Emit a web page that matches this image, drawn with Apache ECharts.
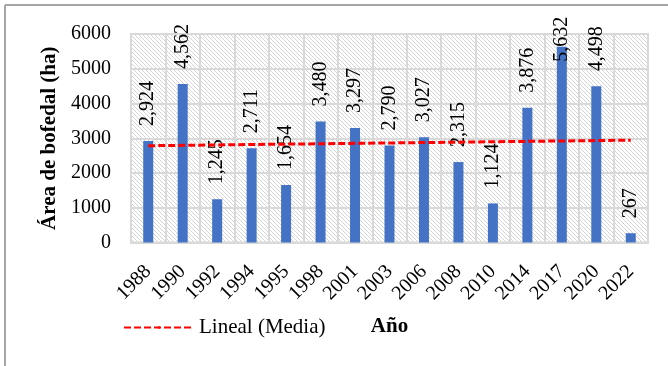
<!DOCTYPE html>
<html>
<head>
<meta charset="utf-8">
<script src="https://cdn.jsdelivr.net/npm/echarts@6/dist/echarts.min.js"></script>
<style>
html,body{margin:0;padding:0;background:#fff;}
#c{width:668px;height:366px;}
</style>
</head>
<body>
<div id="c"></div>
<script>
var categories = ['1988','1990','1992','1994','1995','1998','2001','2003','2006','2008','2010','2014','2017','2020','2022'];
var areaValues = [2924, 4562, 1245, 2711, 1654, 3480, 3297, 2790, 3027, 2315, 1124, 3876, 5632, 4498, 267];
var trendCategories = ['1988', '2022'];
var trendValues = [2785, 2945];
var yTicks = [0, 1000, 2000, 3000, 4000, 5000, 6000];

var pc = document.createElement('canvas');
pc.width = 4; pc.height = 4;
var ctx = pc.getContext('2d');
ctx.fillStyle = '#ffffff';
ctx.fillRect(0, 0, 4, 4);
ctx.fillStyle = '#d4d4d4';
for (var i = 0; i < 4; i++) { ctx.fillRect(i, i, 1, 1); }

var serif = 'Liberation Serif';
var chart = echarts.init(document.getElementById('c'), null, {renderer: 'canvas'});
var barData = areaValues.map(function (v) {
  if (v === 5632) { return {value: v, label: {distance: -15}}; }
  return v;
});
chart.setOption({
  animation: false,
  backgroundColor: '#ffffff',
  grid: {
    left: 131, right: 20, top: 34, bottom: 123.5,
    show: true,
    backgroundColor: {image: pc, repeat: 'repeat'},
    borderColor: '#d9d9d9',
    borderWidth: 2
  },
  legend: {
    left: 118, top: 312,
    itemWidth: 70, itemHeight: 3,
    itemGap: 10,
    data: ['Lineal (Media)'],
    textStyle: {fontFamily: serif, fontSize: 21, color: '#000'}
  },
  graphic: [
    {type: 'line', shape: {x1: 5, y1: 5, x2: 668, y2: 5}, style: {stroke: '#a6a6a6', lineWidth: 2}, silent: true},
    {type: 'line', shape: {x1: 5, y1: 5, x2: 5, y2: 366}, style: {stroke: '#a6a6a6', lineWidth: 2}, silent: true}
  ],
  xAxis: {
    type: 'category',
    data: categories,
    boundaryGap: true,
    name: 'Año',
    nameLocation: 'middle',
    nameGap: 74,
    nameTextStyle: {fontFamily: serif, fontSize: 21, fontWeight: 'bold', color: '#000'},
    axisLine: {show: true, lineStyle: {color: '#d9d9d9', width: 2}},
    axisTick: {show: false},
    splitLine: {show: true, interval: 0, lineStyle: {color: '#d9d9d9', width: 2}},
    axisLabel: {rotate: 45, interval: 0, margin: 26, fontFamily: serif, fontSize: 20, color: '#000'}
  },
  yAxis: {
    type: 'value',
    min: yTicks[0], max: yTicks[yTicks.length - 1], interval: 1000,
    name: 'Área de bofedal (ha)',
    nameLocation: 'middle',
    nameGap: 71,
    nameTextStyle: {fontFamily: serif, fontSize: 21, fontWeight: 'bold', color: '#000'},
    axisLine: {show: false},
    axisTick: {show: false},
    splitLine: {show: true, lineStyle: {color: '#d9d9d9', width: 2}},
    axisLabel: {margin: 20, fontFamily: serif, fontSize: 20, color: '#000', formatter: function (v) { return String(v); }}
  },
  series: [
    {
      name: 'Área',
      type: 'bar',
      data: barData,
      barWidth: 10,
      itemStyle: {color: '#4472c4'},
      label: {
        show: true,
        position: 'top',
        distance: 15,
        rotate: 90,
        align: 'left',
        verticalAlign: 'middle',
        fontFamily: serif,
        fontSize: 20,
        color: '#000',
        formatter: function (p) { return p.value.toLocaleString('en-US'); }
      }
    },
    {
      name: 'Lineal (Media)',
      type: 'line',
      data: trendCategories.map(function (c, i) { return [c, trendValues[i]]; }),
      symbol: 'none',
      lineStyle: {color: '#ff0000', width: 3, type: [7, 3]},
      itemStyle: {color: '#ff0000'},
      z: 5
    }
  ]
});
</script>
</body>
</html>
